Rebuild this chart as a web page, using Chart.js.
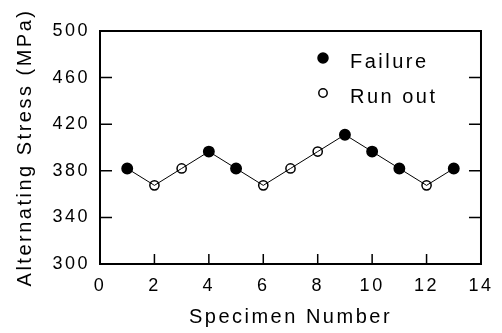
<!DOCTYPE html>
<html>
<head>
<meta charset="utf-8">
<script src="https://cdn.jsdelivr.net/npm/chart.js@4/dist/chart.umd.min.js"></script>
<style>
  html, body { margin: 0; padding: 0; background: #fff; }
  #wrap { width: 502px; height: 333px; position: relative; }
</style>
</head>
<body>
<div id="wrap"><canvas id="c" width="502" height="333"></canvas></div>
<script>
// ---- data ----
const specimens = [1, 2, 3, 4, 5, 6, 7, 8, 9, 10, 11, 12, 13];
const stress = [382, 367.5, 382, 396.5, 382, 367.5, 382, 396.5, 411, 396.5, 382, 367.5, 382];
const outcome = ['F', 'R', 'R', 'F', 'F', 'R', 'R', 'R', 'F', 'F', 'F', 'R', 'F'];
const legendLabels = ['Failure', 'Run out'];
const xTitle = 'Specimen Number';
const yTitle = 'Alternating Stress (MPa)';

const FONT = "'Liberation Sans', Arial, sans-serif";
const points = specimens.map((x, i) => ({ x: x, y: stress[i] }));

const framePlugin = {
  id: 'frame',
  beforeDraw(chart) {
    chart.ctx.letterSpacing = '2.5px';
  },
  afterDatasetsDraw(chart) {
    const ctx = chart.ctx;
    const a = chart.chartArea;
    const xs = chart.scales.x, ys = chart.scales.y;
    ctx.save();
    ctx.strokeStyle = '#000';
    ctx.lineWidth = 2;
    ctx.strokeRect(a.left, a.top, a.right - a.left, a.bottom - a.top);
    ctx.lineWidth = 1.5;
    ctx.beginPath();
    ys.ticks.forEach(t => {
      if (t.value <= ys.min || t.value >= ys.max) return;
      const y = ys.getPixelForValue(t.value);
      const len = ((t.value - ys.min) % 40 === 0) ? 12 : 4;
      ctx.moveTo(a.left, y); ctx.lineTo(a.left + len, y);
      ctx.moveTo(a.right, y); ctx.lineTo(a.right - len, y);
    });
    xs.ticks.forEach(t => {
      if (t.value <= xs.min || t.value >= xs.max) return;
      const x = xs.getPixelForValue(t.value);
      ctx.moveTo(x, a.bottom); ctx.lineTo(x, a.bottom - 10);
    });
    ctx.stroke();

    // legend
    const rows = [{ y: 58, fill: true }, { y: 93, fill: false }];
    rows.forEach((r, i) => {
      ctx.beginPath();
      ctx.arc(323, r.y, r.fill ? 5 : 4.2, 0, Math.PI * 2);
      ctx.fillStyle = r.fill ? '#000' : '#fff';
      ctx.fill();
      ctx.lineWidth = 1.5;
      ctx.strokeStyle = '#000';
      ctx.stroke();
      ctx.fillStyle = '#000';
      ctx.font = '20px ' + FONT;
      ctx.letterSpacing = '2.5px';
      ctx.textAlign = 'left';
      ctx.textBaseline = 'alphabetic';
      ctx.fillText(legendLabels[i], 350, r.y + 9.5);
    });
    ctx.restore();
  }
};

new Chart(document.getElementById('c'), {
  type: 'scatter',
  data: {
    datasets: [{
      data: points,
      showLine: true,
      borderColor: '#000',
      borderWidth: 1,
      pointRadius: outcome.map(o => o === 'F' ? 5.2 : 4.6),
      pointBackgroundColor: outcome.map(o => o === 'F' ? '#000' : 'rgba(255,255,255,0)'),
      pointBorderColor: '#000',
      pointBorderWidth: 1.5,
      pointHoverRadius: 5
    }]
  },
  options: {
    responsive: false,
    animation: false,
    events: [],
    layout: { padding: { top: 31, right: 13, left: 0, bottom: 0 } },
    plugins: { legend: { display: false }, tooltip: { enabled: false } },
    scales: {
      x: {
        type: 'linear',
        min: 0, max: 14,
        grid: { display: false, drawTicks: false },
        border: { display: false },
        ticks: { stepSize: 2, color: '#000', font: { family: FONT, size: 18 }, padding: 11, maxRotation: 0 },
        title: { display: true, text: xTitle, color: '#000', font: { family: FONT, size: 20 }, padding: { top: 0, bottom: 4 } },
        afterFit(s) { s.height = 69; }
      },
      y: {
        type: 'linear',
        min: 300, max: 500,
        grid: { display: false, drawTicks: false },
        border: { display: false },
        ticks: {
          stepSize: 20, color: '#000', font: { family: FONT, size: 18 }, padding: 10,
          callback: v => ((v - 300) % 40 === 0 ? String(v) : '')
        },
        title: { display: true, text: yTitle, color: '#000', font: { family: FONT, size: 20 }, padding: { top: 13, bottom: 0 } },
        afterFit(s) { s.width = 100; }
      }
    }
  },
  plugins: [framePlugin]
});
</script>
</body>
</html>
